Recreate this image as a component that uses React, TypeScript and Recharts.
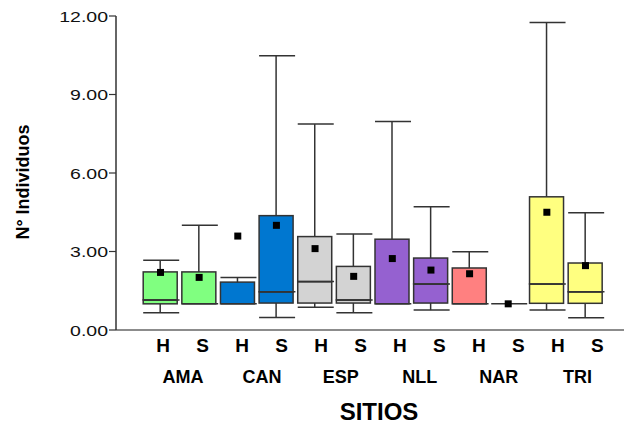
import { ComposedChart, Bar, Scatter, XAxis, YAxis } from 'recharts';

// sites and groups (H / S)
const SITES = ['AMA', 'CAN', 'ESP', 'NLL', 'NAR', 'TRI'];
const GROUPS = ['H', 'S'];

// box plot stats, one per site x group, in order AMA-H, AMA-S, CAN-H ...
const MINS = [0.66, 1.0, 1.0, 0.48, 0.87, 0.66, 1.0, 0.76, 1.0, 1.0, 0.76, 0.47];
const Q1S = [1.0, 1.0, 1.0, 1.03, 1.03, 1.03, 1.0, 1.03, 1.0, 1.0, 1.02, 1.02];
const MEDS = [1.15, 1.0, 1.0, 1.46, 1.85, 1.15, 1.0, 1.76, 1.0, 1.0, 1.76, 1.46];
const Q3S = [2.22, 2.22, 1.83, 4.37, 3.57, 2.43, 3.47, 2.75, 2.37, 1.0, 5.09, 2.56];
const MAXS = [2.67, 4.0, 2.01, 10.48, 7.87, 3.67, 7.97, 4.71, 2.99, 1.0, 11.75, 4.48];
const MEANS = [2.2, 2.01, 3.59, 4.0, 3.11, 2.05, 2.73, 2.29, 2.15, 1.0, 4.5, 2.46];

const Y_TICKS = [0, 3, 6, 9, 12];

const SITE_COLORS: Record<string, string> = {
  AMA: '#80ff80',
  CAN: '#0077d0',
  ESP: '#d3d3d3',
  NLL: '#9561d0',
  NAR: '#ff8080',
  TRI: '#ffff80',
};

const FONT = '"Liberation Sans", Arial, sans-serif';
const STROKE = '#333';

const data = SITES.flatMap((site, i) =>
  GROUPS.map((g, j) => {
    const k = i * 2 + j;
    return {
      key: `${site}-${g}`,
      site,
      base: MINS[k],
      lw: Q1S[k] - MINS[k],
      bl: MEDS[k] - Q1S[k],
      bu: Q3S[k] - MEDS[k],
      uw: MAXS[k] - Q3S[k],
      med: MEDS[k],
      mean: MEANS[k],
    };
  })
);

const Empty = () => <g />;

function BoxPart(p: any) {
  const { x, y, width, height, payload } = p;
  if (!(height > 0.3)) return <g />;
  return <rect x={x} y={y} width={width} height={height} fill={SITE_COLORS[payload.site]} stroke={STROKE} strokeWidth={1.5} />;
}

function LowWhisker(p: any) {
  const { x, y, width, height } = p;
  if (!(height > 0.3)) return <g />;
  const cx = x + width / 2;
  return (
    <g stroke={STROKE} strokeWidth={1.5}>
      <line x1={cx} x2={cx} y1={y} y2={y + height} />
      <line x1={x} x2={x + width + 2} y1={y + height} y2={y + height} />
    </g>
  );
}

function HighWhisker(p: any) {
  const { x, y, width, height } = p;
  if (!(height > 0.3)) return <g />;
  const cx = x + width / 2;
  return (
    <g stroke={STROKE} strokeWidth={1.5}>
      <line x1={cx} x2={cx} y1={y} y2={y + height} />
      <line x1={x} x2={x + width + 2} y1={y} y2={y} />
    </g>
  );
}

const MedianMark = (p: any) => (
  <line x1={p.cx - 17} x2={p.cx + 19} y1={p.cy} y2={p.cy} stroke={STROKE} strokeWidth={1.5} />
);

const MeanMark = (p: any) => <rect x={p.cx - 3.5} y={p.cy - 3.5} width={7} height={7} fill="#000" />;

function YTick(p: any) {
  const { x, y, payload } = p;
  return (
    <g transform={`translate(${x},${y})`}>
      <text x={0} y={0} dy={5.5} textAnchor="end" transform="scale(1.3,1)" fontSize={15} fill="#111" fontFamily={FONT}>
        {Number(payload.value).toFixed(2)}
      </text>
    </g>
  );
}

function LabelTick(p: any) {
  const { x, y, payload } = p;
  const [site, g] = String(payload.value).split('-');
  return (
    <g fontFamily={FONT} fontWeight="bold" fill="#000">
      <text x={x} y={y + 22} textAnchor="middle" fontSize={19}>{g}</text>
      {g === 'S' && (
        <text x={x - 19.7} y={y + 53} textAnchor="middle" fontSize={18}>{site}</text>
      )}
    </g>
  );
}

export default function App() {
  return (
    <div style={{ position: 'absolute', left: 0, top: 0, width: 624, height: 425, background: '#fff' }}>
      <ComposedChart width={624} height={425} data={data} margin={{ top: 16, right: 0, bottom: 0, left: 0 }}>
        <XAxis xAxisId="box" dataKey="key" type="category" hide height={0} padding={{ left: 25.2, right: 19.2 }} />
        <XAxis
          xAxisId="lab"
          dataKey="key"
          type="category"
          height={95}
          padding={{ left: 27.5, right: 7 }}
          axisLine={{ stroke: '#666', strokeWidth: 1.5 }}
          tickLine={false}
          tickSize={0}
          tickMargin={0}
          interval={0}
          tick={(props: any) => <LabelTick {...props} />}
          label={() => (
            <text x={379} y={420} textAnchor="middle" fontFamily={FONT} fontWeight="bold" fontSize={24} fill="#000">
              SITIOS
            </text>
          )}
        />
        <YAxis
          type="number"
          domain={[0, 12]}
          ticks={Y_TICKS}
          width={116}
          tickSize={7}
          tickMargin={1}
          axisLine={{ stroke: STROKE, strokeWidth: 1.5 }}
          tickLine={{ stroke: STROKE, strokeWidth: 1.2 }}
          tick={(props: any) => <YTick {...props} />}
          label={() => (
            <text transform="translate(29,182) rotate(-90)" textAnchor="middle" fontFamily={FONT} fontWeight="bold" fontSize={18} fill="#000">
              N° Individuos
            </text>
          )}
        />
        <Bar xAxisId="box" dataKey="base" stackId="b" barSize={34} shape={<Empty />} isAnimationActive={false} />
        <Bar xAxisId="box" dataKey="lw" stackId="b" barSize={34} shape={(p: any) => <LowWhisker {...p} />} isAnimationActive={false} />
        <Bar xAxisId="box" dataKey="bl" stackId="b" barSize={34} shape={(p: any) => <BoxPart {...p} />} isAnimationActive={false} />
        <Bar xAxisId="box" dataKey="bu" stackId="b" barSize={34} shape={(p: any) => <BoxPart {...p} />} isAnimationActive={false} />
        <Bar xAxisId="box" dataKey="uw" stackId="b" barSize={34} shape={(p: any) => <HighWhisker {...p} />} isAnimationActive={false} />
        <Scatter xAxisId="box" dataKey="med" shape={(p: any) => <MedianMark {...p} />} isAnimationActive={false} />
        <Scatter xAxisId="box" dataKey="mean" shape={(p: any) => <MeanMark {...p} />} isAnimationActive={false} />
      </ComposedChart>
    </div>
  );
}
